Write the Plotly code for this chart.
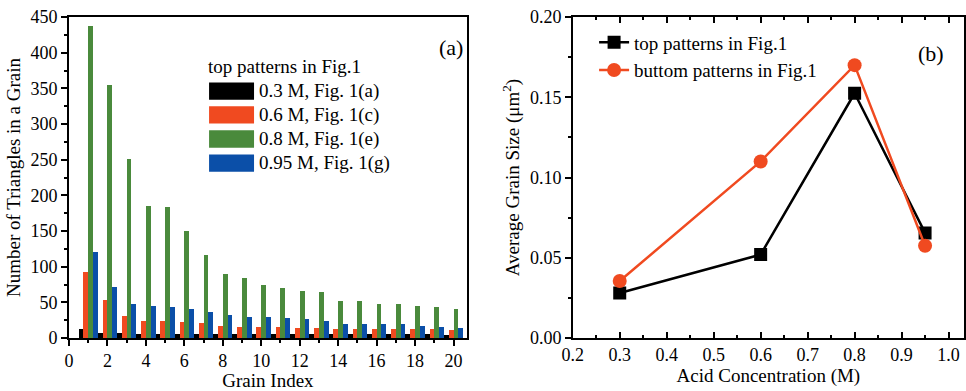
import plotly.graph_objects as go

# ---------------- data ----------------
grain_index = list(range(1, 21))
bar_names = ["0.3 M, Fig. 1(a)", "0.6 M, Fig. 1(c)", "0.8 M, Fig. 1(e)", "0.95 M, Fig. 1(g)"]
bar_colors = ["#000000", "#F04A20", "#4A8A3C", "#0B4FA8"]
tri_03 = [12, 7, 7, 6, 6, 6, 6, 5, 5, 5, 5, 5, 5, 5, 5, 5, 5, 5, 5, 4]
tri_06 = [93, 53, 31, 24, 24, 22, 21, 17, 15, 15, 15, 14, 14, 13, 13, 13, 12.5, 12.5, 12, 11]
tri_08 = [437, 354, 251, 185, 183, 150, 117, 90, 84, 74, 70, 66, 64, 52, 52, 48, 47, 45, 44, 41]
tri_095 = [120, 71, 47, 45, 43, 41, 37, 32, 30, 29.5, 28.5, 26.5, 24, 20, 20, 20, 20, 17, 15, 13.5]
bar_series = [tri_03, tri_06, tri_08, tri_095]
bar_legend_title = "top patterns in Fig.1"

acid = [0.3, 0.6, 0.8, 0.95]
top_size = [0.028, 0.052, 0.1525, 0.0655]
bottom_size = [0.0355, 0.110, 0.170, 0.0575]
line_names = ["top patterns in Fig.1", "buttom patterns in Fig.1"]

FONT = "Liberation Serif"

fig = go.Figure()

for name, vals, col in zip(bar_names, bar_series, bar_colors):
    fig.add_trace(go.Bar(x=grain_index, y=vals, name=name, marker_color=col,
                         marker_line_width=0, showlegend=False,
                         xaxis="x", yaxis="y"))

fig.add_trace(go.Scatter(x=acid, y=top_size, name=line_names[0], mode="lines+markers",
                         line=dict(color="black", width=2.5),
                         marker=dict(symbol="square", size=13, color="black"),
                         xaxis="x2", yaxis="y2"))
fig.add_trace(go.Scatter(x=acid, y=bottom_size, name=line_names[1], mode="lines+markers",
                         line=dict(color="#F04A20", width=2.5),
                         marker=dict(symbol="circle", size=14, color="#F04A20"),
                         xaxis="x2", yaxis="y2"))

ydom = [0.1355, 0.9565]
tickfont = dict(family=FONT, size=18, color="black")
titlefont = dict(family=FONT, size=19, color="black")

def ax(**kw):
    base = dict(showgrid=False, zeroline=False, showline=True, linecolor="black",
                linewidth=1.5, tickcolor="black", tickwidth=1.5, tickfont=tickfont,
                automargin=False)
    base.update(kw)
    return base

layout = dict(
    width=966, height=391, margin=dict(l=0, r=0, t=0, b=0),
    paper_bgcolor="white", plot_bgcolor="white",
    barmode="group", bargap=0, bargroupgap=0,
    font=dict(family=FONT, color="black"),
    xaxis=ax(domain=[0.0714, 0.4834], anchor="y", range=[0, 20.7], dtick=2, tick0=0,
             ticks="outside", ticklen=6, mirror=True,
             minor=dict(dtick=1, ticks="outside", ticklen=3, tickcolor="black", tickwidth=1.5),
             title=dict(text="Grain Index", font=titlefont, standoff=2)),
    yaxis=ax(domain=ydom, anchor="x", range=[0, 450], dtick=50, tick0=0,
             ticks="outside", ticklen=6, mirror=True,
             minor=dict(dtick=25, ticks="outside", ticklen=3, tickcolor="black", tickwidth=1.5),
             title=dict(text="Number of Triangles in a Grain", font=titlefont, standoff=5)),
    xaxis3=ax(overlaying="x", anchor="y", side="top", range=[0, 20.7], dtick=2, tick0=0,
              ticks="inside", ticklen=6, showticklabels=False, showline=False,
              minor=dict(dtick=1, ticks="inside", ticklen=3, tickcolor="black", tickwidth=1.5)),
    yaxis3=ax(overlaying="y", anchor="x", side="right", range=[0, 450], dtick=50, tick0=0,
              ticks="inside", ticklen=6, showticklabels=False, showline=False,
              minor=dict(dtick=25, ticks="inside", ticklen=3, tickcolor="black", tickwidth=1.5)),
    xaxis2=ax(domain=[0.5929, 0.998], anchor="y2", range=[0.2, 1.033], dtick=0.1, tick0=0.2,
              tickformat=".1f", ticks="inside", ticklen=6, mirror="ticks",
              minor=dict(dtick=0.05, ticks="inside", ticklen=3, tickcolor="black", tickwidth=1.5),
              title=dict(text="Acid Concentration (M)", font=titlefont, standoff=4)),
    yaxis2=ax(domain=ydom, anchor="x2", range=[0, 0.2], dtick=0.05, tick0=0,
              tickformat=".2f", ticks="outside", ticklen=6, mirror=True,
              minor=dict(dtick=0.025, ticks="outside", ticklen=3, tickcolor="black", tickwidth=1.5),
              title=dict(text="Average Grain Size (μm<sup>2</sup>)", font=titlefont, standoff=5)),
    yaxis4=ax(overlaying="y2", anchor="x2", side="right", range=[0, 0.2], dtick=0.05, tick0=0,
              ticks="inside", ticklen=6, showticklabels=False, showline=False,
              minor=dict(dtick=0.025, ticks="inside", ticklen=3, tickcolor="black", tickwidth=1.5)),
    legend=dict(x=0.615, y=0.94, xanchor="left", yanchor="top", bgcolor="rgba(0,0,0,0)",
                font=dict(family=FONT, size=19, color="black"), tracegroupgap=0,
                itemwidth=30),
)
fig.update_layout(**layout)

# manual legend for the bar chart
shapes = []
annotations = []
row_y = [0.769, 0.695, 0.620, 0.545]
for name, col, yc in zip(bar_names, bar_colors, row_y):
    shapes.append(dict(type="rect", xref="x domain", yref="y domain",
                       x0=0.352, x1=0.465, y0=yc - 0.027, y1=yc + 0.027,
                       fillcolor=col, line=dict(width=0)))
    annotations.append(dict(text=name, xref="x domain", yref="y domain", x=0.473, y=yc,
                            xanchor="left", yanchor="middle", showarrow=False,
                            font=dict(family=FONT, size=19, color="black")))
annotations.append(dict(text=bar_legend_title, xref="x domain", yref="y domain", x=0.345, y=0.845,
                        xanchor="left", yanchor="middle", showarrow=False,
                        font=dict(family=FONT, size=19, color="black")))
annotations.append(dict(text="(a)", xref="x domain", yref="y domain", x=0.995, y=0.905,
                        xanchor="right", yanchor="middle", showarrow=False,
                        font=dict(family=FONT, size=22, color="black")))
annotations.append(dict(text="(b)", xref="x2 domain", yref="y2 domain", x=0.955, y=0.885,
                        xanchor="right", yanchor="middle", showarrow=False,
                        font=dict(family=FONT, size=22, color="black")))
fig.update_layout(shapes=shapes, annotations=annotations)

fig.write_html("out.html")
